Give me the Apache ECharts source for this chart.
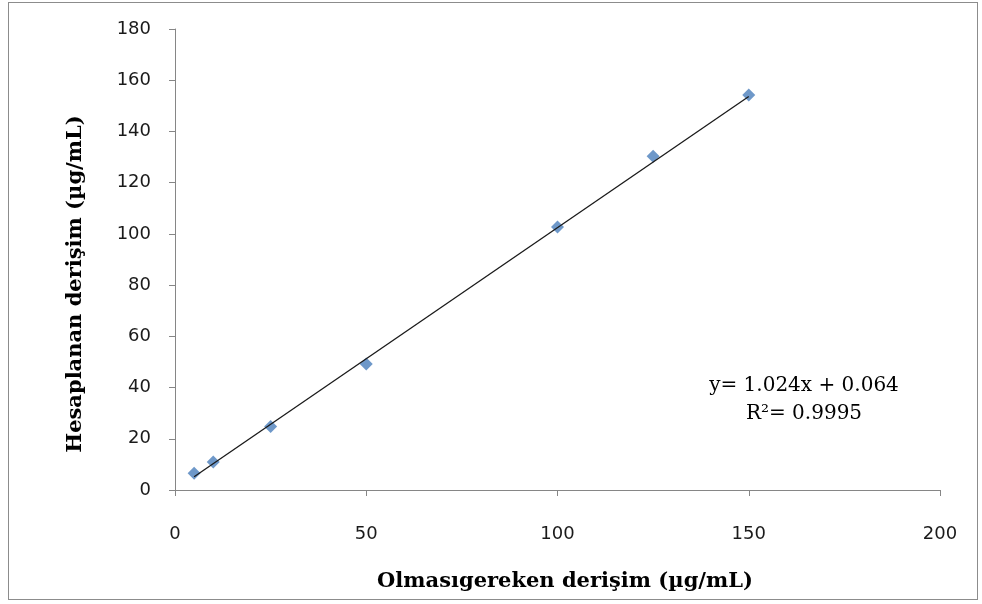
<!DOCTYPE html>
<html>
<head>
<meta charset="utf-8">
<script src="https://cdn.jsdelivr.net/npm/echarts@6/dist/echarts.min.js"></script>
<style>
  html, body { margin: 0; padding: 0; background: #fff; }
  #frame { position: absolute; left: 8px; top: 2px; width: 970px; height: 598px; border: 1px solid #8c8c8c; box-sizing: border-box; }
  #chart { position: absolute; left: 0; top: 0; width: 982px; height: 604px; }
</style>
</head>
<body>
<div id="frame"></div>
<div id="chart"></div>
<script>
// Expected vs. calculated concentrations (µg/mL)
const expected = [5, 10, 25, 50, 100, 125, 150];
const calculated = [6.5, 10.9, 24.8, 49.2, 102.7, 130.3, 154.2];

// Linear fit reported on the chart
const slope = 1.024;
const intercept = 0.064;
const fitRange = [5, 150];
const equationText = 'y= 1.024x + 0.064';
const r2Text = 'R²= 0.9995';

// Axis titles
const xTitle = 'Olmasıgereken derişim (µg/mL)';
const yTitle = 'Hesaplanan derişim (µg/mL)';

const points = expected.map((x, i) => [x, calculated[i]]);
const fitLine = fitRange.map(x => [x, slope * x + intercept]);

const tickFont = { fontFamily: 'DejaVu Sans', fontSize: 18, color: '#1a1a1a' };
const titleFont = 'bold 21px "DejaVu Serif"';

const chart = echarts.init(document.getElementById('chart'));
chart.setOption({
  animation: false,
  grid: { left: 175, right: 42, top: 29, bottom: 114, containLabel: false },
  xAxis: {
    type: 'value', min: 0, max: 200, interval: 50,
    axisLine: { lineStyle: { color: '#868686', width: 1 } },
    axisTick: { show: true, inside: false, length: 6, lineStyle: { color: '#868686' } },
    axisLabel: Object.assign({ margin: 35 }, tickFont),
    splitLine: { show: false }
  },
  yAxis: {
    type: 'value', min: 0, max: 180, interval: 20,
    axisLine: { show: true, lineStyle: { color: '#868686', width: 1 } },
    axisTick: { show: true, inside: false, length: 6, lineStyle: { color: '#868686' } },
    axisLabel: Object.assign({ margin: 24 }, tickFont),
    splitLine: { show: false }
  },
  series: [
    {
      type: 'line', data: fitLine, symbol: 'none', silent: true,
      lineStyle: { color: '#1a1a1a', width: 1.3 }, z: 3
    },
    {
      type: 'scatter', data: points, symbol: 'diamond', symbolSize: 13,
      itemStyle: { color: '#4A7EBB' }, z: 2
    }
  ],
  graphic: [
    {
      type: 'text', x: 565, y: 582,
      style: { text: xTitle, align: 'center', verticalAlign: 'middle', font: titleFont, fill: '#000' }
    },
    {
      type: 'text', x: 76, y: 284, rotation: Math.PI / 2,
      style: { text: yTitle, align: 'center', verticalAlign: 'middle', font: titleFont, fill: '#000' }
    },
    {
      type: 'text', x: 804, y: 386,
      style: { text: equationText, align: 'center', verticalAlign: 'middle',
               font: '20px "DejaVu Serif"', fill: '#000' }
    },
    {
      type: 'text', x: 804, y: 414,
      style: { text: r2Text, align: 'center', verticalAlign: 'middle',
               font: '20px "DejaVu Serif"', fill: '#000' }
    }
  ]
});
</script>
</body>
</html>
